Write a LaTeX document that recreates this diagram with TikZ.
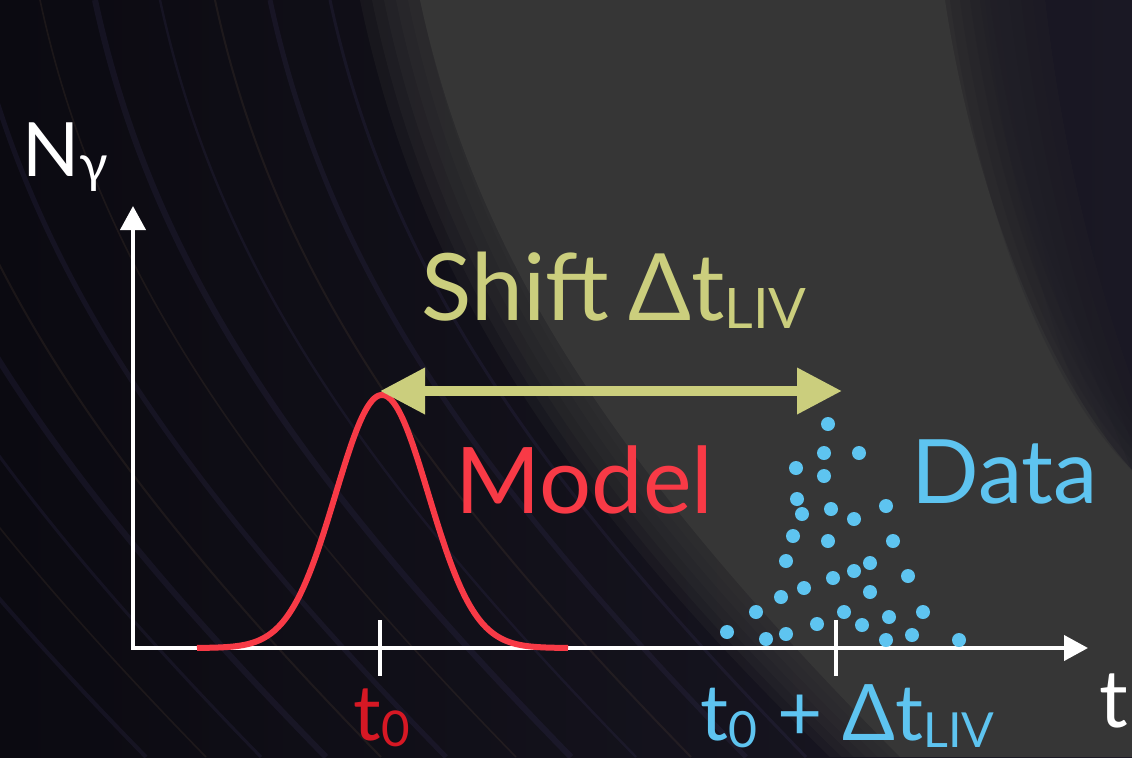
\documentclass[tikz,border=0pt]{standalone}
\usepackage{fontspec}
\setmainfont{Lato}
\usetikzlibrary{arrows.meta}
\definecolor{nightbg}{RGB}{11,10,17}
\definecolor{duskbg}{RGB}{26,24,36}
\definecolor{smokegray}{RGB}{54,54,54}
\definecolor{cornerdark}{RGB}{28,26,36}
\definecolor{streakviolet}{RGB}{90,80,150}
\definecolor{streakamber}{RGB}{150,115,80}
\definecolor{modelred}{RGB}{248,58,70}
\definecolor{tzerored}{RGB}{214,24,36}
\definecolor{datablue}{RGB}{94,196,240}
\definecolor{shiftolive}{RGB}{203,206,125}
\newcommand{\lowsub}[2][0.64]{\raisebox{-0.09em}{\scalebox{#1}{#2}}}

\begin{document}
\begin{tikzpicture}[x=0.5pt,y=-0.5pt,
  lbl/.style={inner sep=0pt,anchor=base west},
  axis/.style={white,line width=2pt},
  tick/.style={white,line width=1.6pt}]
\useasboundingbox (0,0) rectangle (1132,757);
% backdrop
\fill[left color=nightbg,right color=duskbg] (0,0) rectangle (1132,757);
\foreach \s/\c/\w in {-330/streakviolet/2pt,-270/streakamber/0.8pt,-215/streakviolet/1.5pt,-150/streakviolet/3pt,-95/streakamber/1pt,-30/streakviolet/2.5pt,40/streakamber/0.8pt,95/streakviolet/3pt,160/streakviolet/1.2pt,215/streakamber/1pt,270/streakviolet/2.5pt,330/streakviolet/1.5pt}
  \draw[\c,opacity=0.12,line width=\w] (\s,0) .. controls (\s+56,260) and (\s+196,470) .. (\s+476,757);
\foreach \k in {0,...,5}
  \fill[smokegray,opacity=0.22,xshift=\k*6pt] (360,0) .. controls (416,270) and (556,490) .. (830,757) -- (1132,757) -- (1132,520) .. controls (1070,400) and (1010,220) .. (985,0) -- cycle;
\fill[smokegray] (420,0) .. controls (476,260) and (616,470) .. (900,757) -- (1132,757) -- (1132,470) .. controls (1050,380) and (975,200) .. (945,0) -- cycle;
\foreach \k in {0,...,4}
  \fill[cornerdark,opacity=0.2,xshift=\k*5pt] (1132,0) -- (950,0) .. controls (980,220) and (1050,390) .. (1132,470) -- cycle;

% axes
\coordinate (ytop) at (133,206);
\coordinate (origin) at (133,648);
\coordinate (xend) at (1088,648);
\draw[axis,{Triangle[length=12pt,width=12.5pt]}-{Triangle[length=12pt,width=12.5pt]}] (ytop) |- (xend);
\coordinate (tzero) at (380,648);
\coordinate (tshift) at (836,648);
\draw[tick] (tzero) ++(0,-28) -- ++(0,56);
\draw[tick] (tshift) ++(0,-28) -- ++(0,56);

% model pulse
\draw[modelred,line width=3pt] plot[domain=197:568,samples=160,smooth]
  (\x,{648-253*exp(-0.5*((\x-382)/46.5)*((\x-382)/46.5))});

% data photons
\foreach \x/\y in {828/424,824/453,859/453,796/468,824/476,797/499,802/514,831/509,854/519,886/506,
  793/536,828/541,893/541,786/561,854/571,870/563,833/578,908/576,804/588,870/592,
  781/597,756/612,844/612,923/612,817/624,862/625,889/617,727/632,766/639,786/634,
  886/640,912/635,959/640}
  \fill[datablue] (\x,\y) circle (3.5pt);

% shift arrow
\coordinate (peak) at (380,391);
\coordinate (arrival) at (842,391);
\draw[shiftolive,line width=5pt,{Triangle[length=22.5pt,width=22pt]}-{Triangle[length=22.5pt,width=22pt]}] (peak) -- (arrival);

% labels
\node[lbl,white,font=\fontsize{37.5}{40}\selectfont] (ngamma) at (22,176) {N\lowsub[0.7]{γ}};
\node[lbl,white,font=\fontsize{40}{44}\selectfont] (tlabel) at (1099,727) {t};
\node[lbl,shiftolive,font=\fontsize{46.5}{52}\selectfont] (shift) at (421,320) {Shift\hspace{-0.05em} Δt\lowsub[0.6]{LIV}};
\node[lbl,modelred,font=\fontsize{46}{50}\selectfont] (model) at (455,513) {Model};
\node[lbl,datablue,font=\fontsize{44.5}{48}\selectfont] (data) at (911,503) {Data};
\node[lbl,tzerored,font=\fontsize{38.5}{42}\selectfont] (tzerolbl) at (353,740) {t\lowsub{0}};
\node[lbl,datablue,font=\fontsize{39}{42}\selectfont] (tshiftlbl) at (700,740) {t\lowsub{0} + Δt\lowsub[0.62]{LIV}};
\end{tikzpicture}
\end{document}
